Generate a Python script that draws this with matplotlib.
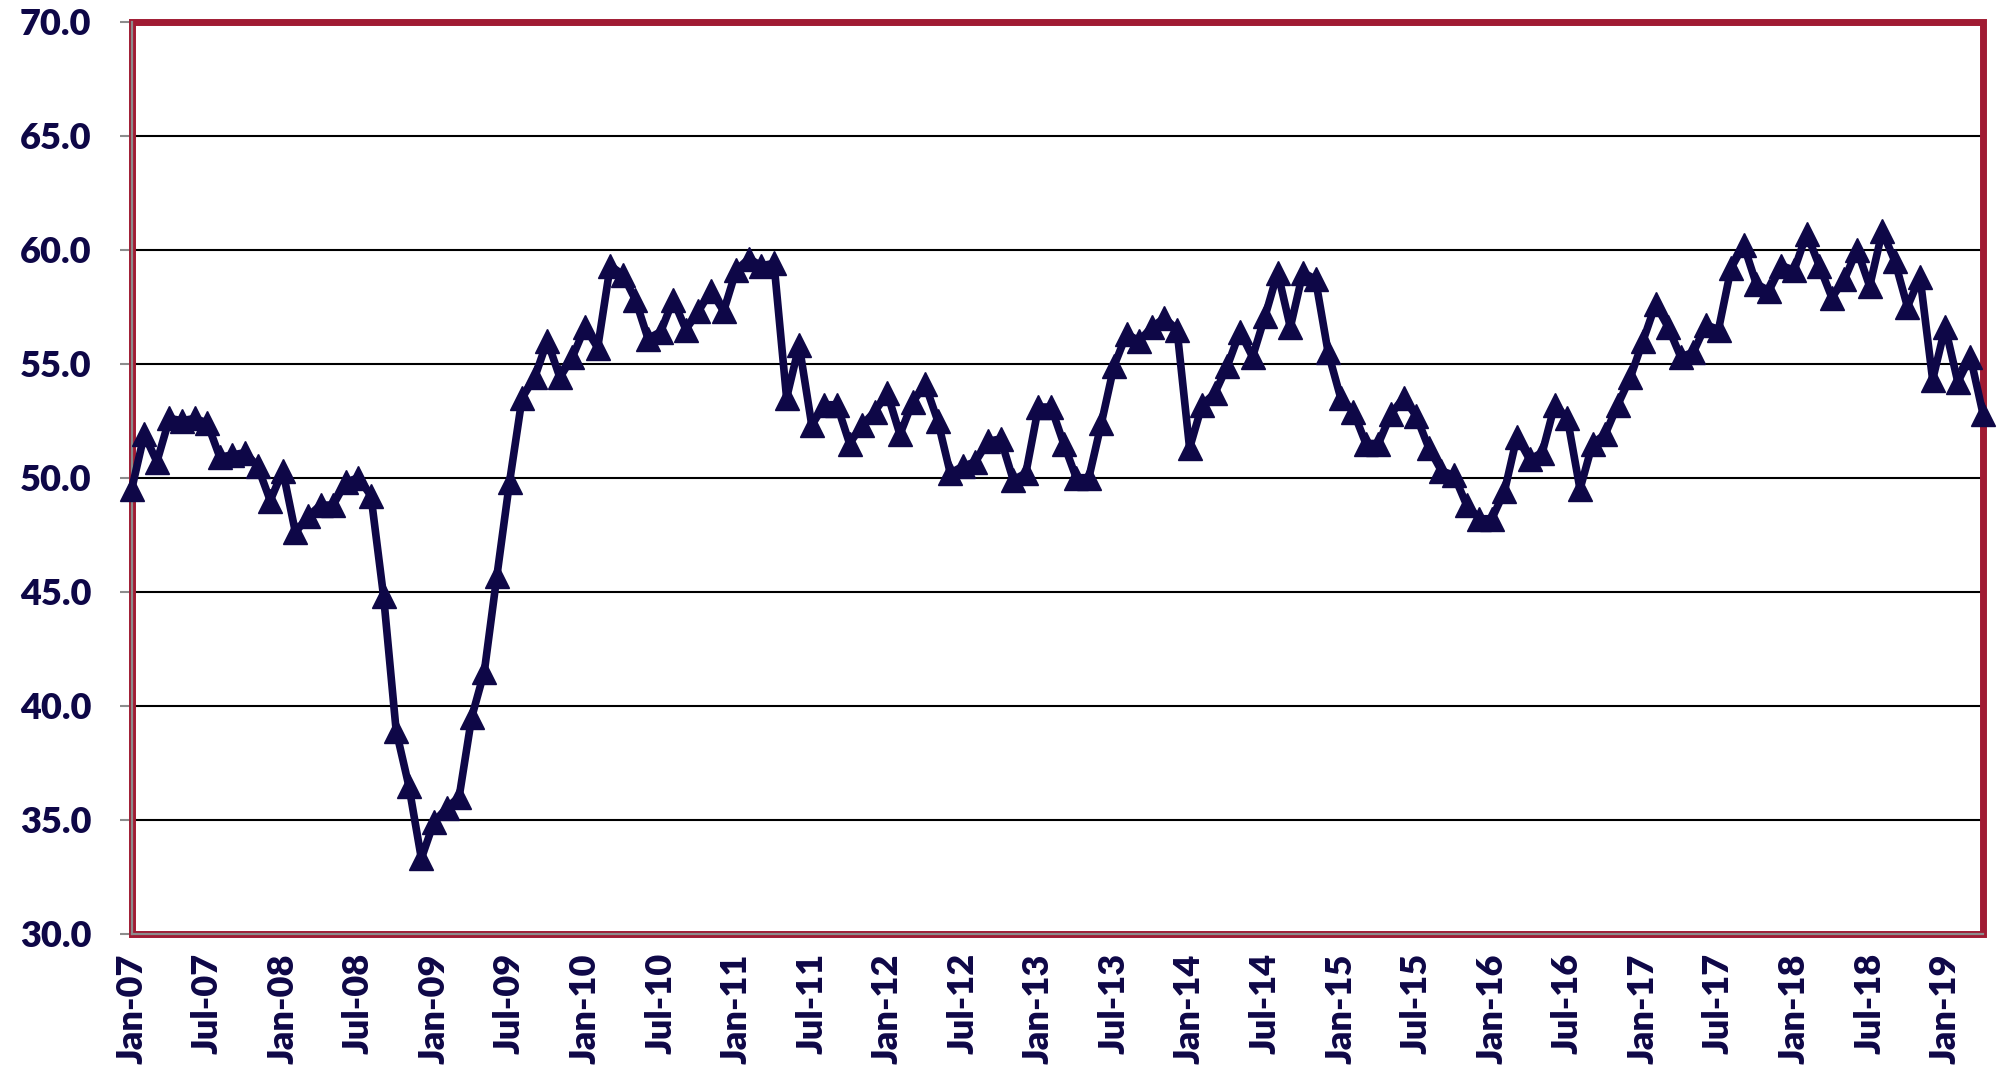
import matplotlib
matplotlib.use("Agg")
import matplotlib.pyplot as plt
import matplotlib.patches as patches
import pandas as pd

# Monthly index values, Jan-07 .. Apr-19
pmi_2007 = [49.5, 51.9, 50.7, 52.6, 52.5, 52.6, 52.4, 50.9, 51.0, 51.1, 50.5, 49.0]
pmi_2008 = [50.3, 47.6, 48.3, 48.8, 48.8, 49.8, 50.0, 49.2, 44.8, 38.9, 36.5, 33.3]
pmi_2009 = [34.9, 35.5, 36.0, 39.5, 41.5, 45.7, 49.8, 53.5, 54.4, 56.0, 54.4, 55.3]
pmi_2010 = [56.6, 55.7, 59.3, 58.9, 57.8, 56.1, 56.4, 57.8, 56.5, 57.3, 58.2, 57.3]
pmi_2011 = [59.1, 59.6, 59.3, 59.4, 53.5, 55.8, 52.3, 53.2, 53.2, 51.5, 52.3, 52.9]
pmi_2012 = [53.7, 51.9, 53.3, 54.1, 52.5, 50.2, 50.5, 50.7, 51.6, 51.7, 49.9, 50.2]
pmi_2013 = [53.1, 53.1, 51.5, 50.0, 50.0, 52.4, 54.9, 56.3, 56.0, 56.6, 57.0, 56.5]
pmi_2014 = [51.3, 53.2, 53.7, 54.9, 56.4, 55.3, 57.1, 59.0, 56.6, 59.0, 58.7, 55.5]
pmi_2015 = [53.5, 52.9, 51.5, 51.5, 52.8, 53.5, 52.7, 51.3, 50.3, 50.1, 48.8, 48.2]
pmi_2016 = [48.2, 49.4, 51.8, 50.8, 51.1, 53.2, 52.6, 49.5, 51.5, 51.9, 53.2, 54.4]
pmi_2017 = [56.0, 57.6, 56.6, 55.3, 55.5, 56.7, 56.5, 59.2, 60.2, 58.5, 58.2, 59.3]
pmi_2018 = [59.1, 60.7, 59.3, 57.9, 58.7, 60.0, 58.4, 60.8, 59.5, 57.5, 58.8, 54.3]
pmi_2019 = [56.6, 54.2, 55.3, 52.8]

values = (pmi_2007 + pmi_2008 + pmi_2009 + pmi_2010 + pmi_2011 + pmi_2012 +
          pmi_2013 + pmi_2014 + pmi_2015 + pmi_2016 + pmi_2017 + pmi_2018 + pmi_2019)
months = pd.date_range("2007-01-01", periods=len(values), freq="MS")
month_labels = [d.strftime("%b-%y") for d in months]

navy = "#0E0747"
border_red = "#A01B33"

plt.rcParams['font.family'] = ['Lato', 'DejaVu Sans']

fig = plt.figure(figsize=(20.03, 10.81), dpi=100)
ax = fig.add_axes([131.7 / 2003, 1 - 933.7 / 1081, (1983 - 131.7) / 2003, (933.7 - 21.7) / 1081])

x = list(range(len(values)))
ax.plot(x, values, color=navy, lw=5.5, marker='^', markersize=17,
        markerfacecolor=navy, markeredgecolor=navy, markeredgewidth=1,
        zorder=5, clip_on=False)

ax.set_xlim(0, len(values) - 1)
ax.set_ylim(30, 70)
ax.set_yticks(range(30, 71, 5))
ax.set_yticklabels([f"{v:.1f}" for v in range(30, 71, 5)])
ax.set_xticks(x[::6])
ax.set_xticklabels(month_labels[::6], rotation=90)

# horizontal gridlines
for g in range(35, 70, 5):
    ax.axhline(g, color='black', lw=1.5, zorder=1)

for lab in ax.get_yticklabels() + ax.get_xticklabels():
    lab.set_fontsize(26)
    lab.set_fontweight('heavy')
    lab.set_color(navy)

ax.tick_params(axis='y', direction='out', length=9, width=1.5, color='#8c8c8c', pad=20)
ax.tick_params(axis='x', length=0, pad=14)

# red frame around plot area, grey axis lines on left and bottom
for s in ['top', 'right']:
    ax.spines[s].set_visible(False)
ax.add_patch(patches.Rectangle((0, 0), 1, 1, transform=ax.transAxes, fill=False,
                               lw=5, edgecolor=border_red, clip_on=False, zorder=2.4))
for s in ['left', 'bottom']:
    ax.spines[s].set_color('#8c8c8c')
    ax.spines[s].set_linewidth(1.6)
    ax.spines[s].set_zorder(2.6)

plt.savefig('out.png', dpi=100)
